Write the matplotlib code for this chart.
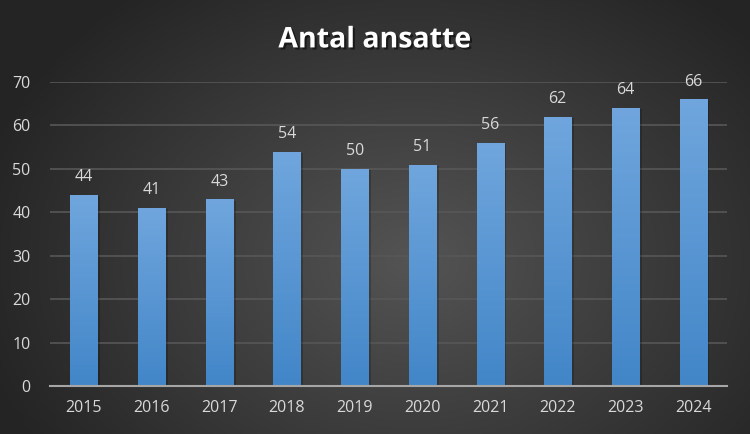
import numpy as np
import matplotlib
matplotlib.use("Agg")
import matplotlib.pyplot as plt
import matplotlib.patheffects as pe

years = ["2015", "2016", "2017", "2018", "2019", "2020", "2021", "2022", "2023", "2024"]
values = [44, 41, 43, 54, 50, 51, 56, 62, 64, 66]
title = "Antal ansatte"
yticks = [0, 10, 20, 30, 40, 50, 60, 70]

plt.rcParams['font.family'] = ['Open Sans', 'DejaVu Sans']

fig = plt.figure(figsize=(7.5, 4.34), dpi=100)

# radial gradient background
bg = fig.add_axes([0, 0, 1, 1], zorder=-10)
h, w = 434, 750
yy, xx = np.mgrid[0:h, 0:w]
cx, cy = w * 0.55, h * 0.6
r = np.sqrt(((xx - cx) / (w * 0.6)) ** 2 + ((yy - cy) / (h * 0.8)) ** 2)
r = np.clip(r, 0, 1)
inner = np.array([0x54, 0x54, 0x54]) / 255
outer = np.array([0x24, 0x24, 0x24]) / 255
img = inner[None, None, :] * (1 - r[..., None]) + outer[None, None, :] * r[..., None]
bg.imshow(img, extent=[0, 1, 0, 1], aspect='auto', origin='upper')
bg.set_axis_off()

ax = fig.add_axes([0.0667, 0.1106, 0.9026, 0.7004])
ax.patch.set_alpha(0)
x = np.arange(len(years))
bars = ax.bar(x, values, width=0.4, color='#5b9bd5', zorder=3,
              path_effects=[pe.SimplePatchShadow(offset=(2, -1), shadow_rgbFace='black', alpha=0.2), pe.Normal()])

# gradient fill clipped to bars
grad = np.linspace(0, 1, 256)[:, None]
top = np.array([0x70, 0xa6, 0xdd]) / 255
bot = np.array([0x42, 0x86, 0xc8]) / 255
gimg = top[None, None, :] * (1 - grad[..., None]) + bot[None, None, :] * grad[..., None]
for b in bars:
    bx, by = b.get_x(), b.get_y()
    bw, bh = b.get_width(), b.get_height()
    im = ax.imshow(gimg, extent=[bx, bx + bw, by, by + bh], aspect='auto', origin='upper', zorder=4)
    im.set_clip_path(b)

for xi, v in zip(x, values):
    ax.annotate(str(v), (xi, v), xytext=(0, 7), textcoords='offset points',
                ha='center', va='bottom', color='#d9d9d9', fontsize=11.5, zorder=5)

ax.set_xlim(-0.5, len(years) - 0.5)
ax.set_ylim(0, 70)
ax.set_yticks(yticks)
ax.set_xticks(x)
ax.set_xticklabels(years)
ax.yaxis.grid(True, color='#575757', linewidth=1.2, zorder=0)
ax.set_axisbelow(True)
for s in ['top', 'right', 'left']:
    ax.spines[s].set_visible(False)
ax.spines['bottom'].set_color('#a6a6a6')
ax.spines['bottom'].set_linewidth(1.5)
ax.spines['bottom'].set_zorder(6)
ax.tick_params(axis='both', length=0, colors='#d9d9d9', labelsize=11.5)
ax.tick_params(axis='x', pad=10)
ax.tick_params(axis='y', pad=14)

# title with slight letter spacing
title_spaced = "\u200a".join(title)
fig.text(0.5, 0.908, title, ha='center', va='center', color='white', fontsize=20.5,
         fontweight='bold',
         path_effects=[pe.withSimplePatchShadow(offset=(1.5, -1.5), shadow_rgbFace='black', alpha=0.5)])

fig.savefig('out.png', dpi=100)
